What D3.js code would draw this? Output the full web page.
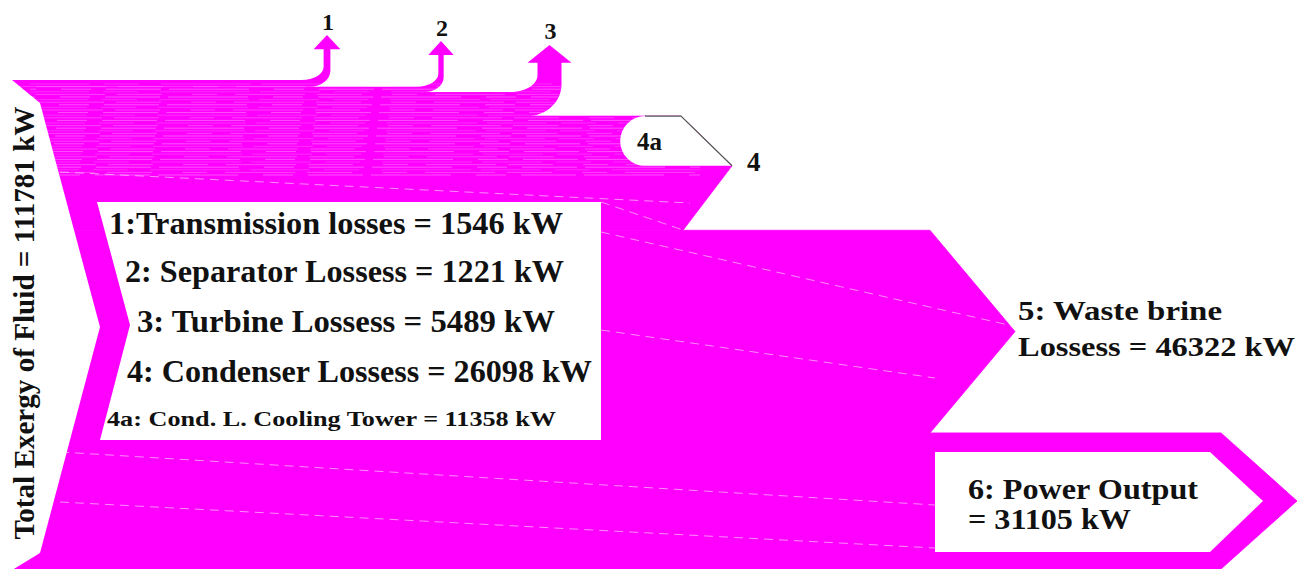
<!DOCTYPE html>
<html>
<head>
<meta charset="utf-8">
<script src="https://cdn.jsdelivr.net/npm/d3@7"></script>
<style>
  html, body { margin: 0; padding: 0; background: #fff; overflow: hidden; }
  svg { display: block; }
  svg text { font-family: "Liberation Serif", "Times New Roman", Times, serif; font-weight: bold; }
</style>
</head>
<body>
<svg id="chart" width="1301" height="569"></svg>
<script>
// Exergy balance of the geothermal fluid, kW
const totalExergy = 111781;
const flowIds = ["1", "2", "3", "4", "5", "6"];
const flowNames = ["Transmission losses", "Separator Lossess", "Turbine Lossess",
                   "Condenser Lossess", "Waste brine Lossess", "Power Output"];
const flowValues = [1546, 1221, 5489, 26098, 46322, 31105];
const coolingId = "4a";
const coolingName = "Cond. L. Cooling Tower";
const coolingValue = 11358;

const W = 1301, H = 569;
const FLOW = "#ff00ff";

const svg = d3.select("#chart");
const defs = svg.append("defs");

// vertical scale: the whole fluid exergy fills the left inlet
const y = d3.scaleLinear().domain([0, totalExergy]).range([80, H]);
const offsets = [0, ...d3.cumsum(flowValues)];
const bands = flowValues.map((v, i) => ({
  id: flowIds[i], name: flowNames[i], value: v,
  y0: y(offsets[i]), y1: y(offsets[i + 1])
}));

// ---- small losses rise upward as curved arrows (1, 2, 3)
const riserX = [327, 441, 549.5];
const riserTipY = [35, 41, 45];
function riserPath(b, cx, tipY) {
  const w = b.y1 - b.y0;
  const l = cx - w / 2, r = cx + w / 2;
  const rxIn = 20 + w * 0.3, ryIn = 12 + w * 0.2;
  const rxOut = 15 + w * 0.8, ryOut = 10 + w * 0.9;
  const headHalf = w / 2 + 10, base = tipY + 13 + w * 0.2;
  const k = 0.4477;
  const p = d3.path();
  p.moveTo(0, b.y0);
  p.lineTo(l - rxIn, b.y0);
  p.bezierCurveTo(l - rxIn * k, b.y0, l, b.y0 - ryIn * k, l, b.y0 - ryIn);
  p.lineTo(l, base);
  p.lineTo(cx - headHalf, base);
  p.lineTo(cx, tipY);
  p.lineTo(cx + headHalf, base);
  p.lineTo(r, base);
  p.lineTo(r, b.y1 - ryOut);
  p.bezierCurveTo(r, b.y1 - ryOut * k, r - rxOut * k, b.y1, r - rxOut, b.y1);
  p.lineTo(0, b.y1);
  p.closePath();
  return p.toString();
}

// ---- larger flows end in chevrons pointing right (4, 5, 6)
function chevronPath(b, xTop, xTip, xBottom, yTip) {
  const p = d3.path();
  p.moveTo(0, b.y0);
  p.lineTo(xTop, b.y0);
  p.lineTo(xTip, yTip);
  p.lineTo(xBottom, b.y1);
  p.lineTo(0, b.y1);
  p.closePath();
  return p.toString();
}

const b4 = bands[3], b5 = bands[4], b6 = bands[5];
const yCool = y(offsets[3] + coolingValue);
const flowPaths = [
  riserPath(bands[0], riserX[0], riserTipY[0]),
  riserPath(bands[1], riserX[1], riserTipY[1]),
  riserPath(bands[2], riserX[2], riserTipY[2]),
  chevronPath(b4, 681, 732, 683, yCool),
  chevronPath(b5, 930, 1015, 930, (b5.y0 + b5.y1) / 2),
  chevronPath(b6, 1221, 1297, 1221, (b6.y0 + b6.y1) / 2)
];

const gFlows = svg.append("g");
gFlows.selectAll("path").data(flowPaths).join("path")
  .attr("d", d => d)
  .attr("fill", FLOW)
  .attr("stroke", (d, i) => i >= 3 ? FLOW : "none")
  .attr("stroke-width", 0.8)
  .attr("stroke-linejoin", "miter");

// light streaks in the upper part of the flow
defs.append("clipPath").attr("id", "flowClip")
  .selectAll("path").data(flowPaths).join("path").attr("d", d => d);
const streakRows = d3.range(84, 176, 2.6);
svg.append("g").attr("clip-path", "url(#flowClip)")
  .selectAll("line").data(streakRows).join("line")
  .attr("x1", 30).attr("x2", 700)
  .attr("y1", d => d).attr("y2", d => d)
  .attr("stroke", "#ff7bff").attr("stroke-opacity", (d, i) => 0.35 + (i % 3) * 0.15)
  .attr("stroke-width", 1)
  .attr("stroke-dasharray", (d, i) => ["60 14 35 22 90 10", "25 18 70 12 45 30", "80 25 30 15 55 8"][i % 3])
  .attr("stroke-dashoffset", (d, i) => (i * 37) % 110);

// faint seams across the flow body
const seams = [
  [[60, 172], [690, 203]],
  [[601, 202], [683, 230]],
  [[601, 232], [1013, 326]],
  [[601, 330], [935, 378]],
  [[60, 452], [935, 505]],
  [[60, 502], [935, 548]]
];
svg.append("g").selectAll("line").data(seams).join("line")
  .attr("x1", d => d[0][0]).attr("y1", d => d[0][1])
  .attr("x2", d => d[1][0]).attr("y2", d => d[1][1])
  .attr("stroke", "#fff").attr("stroke-opacity", 0.55)
  .attr("stroke-width", 1).attr("stroke-dasharray", "9 6");

// inlet edge on the left
svg.append("path")
  .attr("d", "M0,79 L12,80 L40,103 L100,327 L40,553 L13,569.5 L0,569.5 Z")
  .attr("fill", "#fff");

// cooling tower share (4a) leaves the condenser flow
const r4a = (yCool - b4.y0) / 2;
svg.append("path")
  .attr("d", `M645,${b4.y0} L681,${b4.y0} L732,${yCool} L645,${yCool} A${r4a},${r4a} 0 0 1 645,${b4.y0} Z`)
  .attr("fill", "#fff");
svg.append("path")
  .attr("d", `M645,${b4.y0} L681,${b4.y0} L732,${yCool}`)
  .attr("fill", "none").attr("stroke", "#555").attr("stroke-width", 1.2);

// legend panel
svg.append("path")
  .attr("d", "M97,202 L601,202 L601,440 L100,440 L130,325 Z")
  .attr("fill", "#fff");

// power output label panel
const in6 = 19;
svg.append("path")
  .attr("d", `M935,${b6.y0 + in6} L1210,${b6.y0 + in6} L1263,${(b6.y0 + b6.y1) / 2} L1210,${b6.y1 - in6 + 2} L935,${b6.y1 - in6 + 2} Z`)
  .attr("fill", "#fff");

// ---- text
const txt = svg.append("g").attr("fill", "#111");

const legendRows = [
  { text: `${flowIds[0]}:${flowNames[0]} = ${flowValues[0]} kW`, x: 109, y: 234, size: 31, len: 454 },
  { text: `${flowIds[1]}: ${flowNames[1]} = ${flowValues[1]} kW`, x: 125, y: 282, size: 31, len: 439 },
  { text: `${flowIds[2]}: ${flowNames[2]} = ${flowValues[2]} kW`, x: 137, y: 332, size: 31, len: 418 },
  { text: `${flowIds[3]}: ${flowNames[3]} = ${flowValues[3]} kW`, x: 127, y: 382, size: 31, len: 465 },
  { text: `${coolingId}: ${coolingName} = ${coolingValue} kW`, x: 107, y: 426, size: 22, len: 449 }
];
txt.selectAll("text.legend").data(legendRows).join("text")
  .attr("class", "legend")
  .attr("x", d => d.x).attr("y", d => d.y)
  .attr("font-size", d => d.size)
  .attr("textLength", d => d.len).attr("lengthAdjust", "spacingAndGlyphs")
  .text(d => d.text);

// riser labels
const riserLabelY = [30, 36, 39];
bands.slice(0, 3).forEach((b, i) => {
  txt.append("text").attr("x", riserX[i] + 1).attr("y", riserLabelY[i])
    .attr("text-anchor", "middle").attr("font-size", 24).text(b.id);
});
txt.append("text").attr("x", 637).attr("y", 150).attr("font-size", 25).text(coolingId);
txt.append("text").attr("x", 747).attr("y", 171).attr("font-size", 27).text(flowIds[3]);

// waste brine label
const wasteWords = flowNames[4].split(" ");
txt.append("text").attr("x", 1018).attr("y", 320).attr("font-size", 28)
  .attr("textLength", 204).attr("lengthAdjust", "spacingAndGlyphs")
  .text(`${flowIds[4]}: ${wasteWords.slice(0, 2).join(" ")}`);
txt.append("text").attr("x", 1018).attr("y", 356).attr("font-size", 28)
  .attr("textLength", 277).attr("lengthAdjust", "spacingAndGlyphs")
  .text(`${wasteWords[2]} = ${flowValues[4]} kW`);

// power output label
txt.append("text").attr("x", 968).attr("y", 499).attr("font-size", 29)
  .attr("textLength", 230).attr("lengthAdjust", "spacingAndGlyphs")
  .text(`${flowIds[5]}: ${flowNames[5]}`);
txt.append("text").attr("x", 968).attr("y", 529).attr("font-size", 29)
  .attr("textLength", 163).attr("lengthAdjust", "spacingAndGlyphs")
  .text(`= ${flowValues[5]} kW`);

// inlet total, written upward
txt.append("text")
  .attr("transform", "translate(34,323) rotate(-90)")
  .attr("text-anchor", "middle").attr("font-size", 29)
  .attr("textLength", 433).attr("lengthAdjust", "spacingAndGlyphs")
  .text(`Total Exergy of Fluid = ${totalExergy} kW`);
</script>
</body>
</html>
